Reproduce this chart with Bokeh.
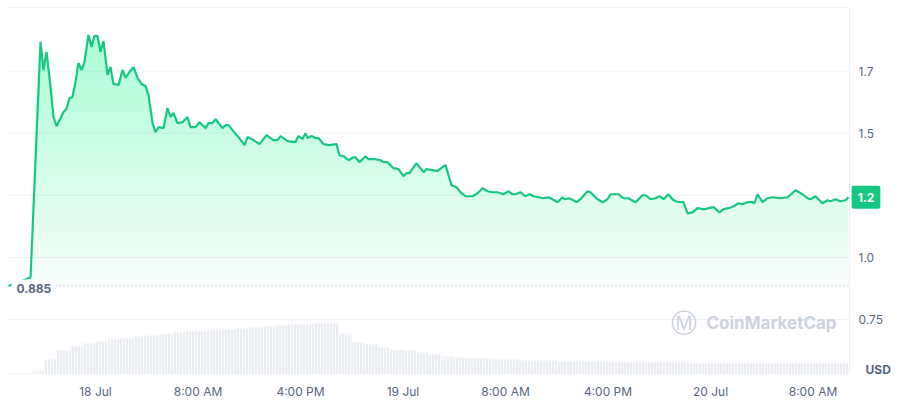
import numpy as np
import pandas as pd
from bokeh.plotting import figure
from bokeh.models import Range1d, Label
from bokeh.core.properties import value
from bokeh.embed import file_html
from bokeh.resources import INLINE

# ---------------- data ----------------
start_time = "2023-07-18 00:00"
# hours relative to 18 Jul 00:00
hours = [-6.79, -5.07, -4.29, -4.06, -3.82, -3.51, -3.28, -3.04, -2.73, -2.50,
         -2.26, -2.03, -1.80, -1.56, -1.33, -1.09, -0.86, -0.55, -0.31, -0.08,
         0.16, 0.39, 0.62, 0.94, 1.17, 1.40, 1.80, 2.11, 2.34, 2.65,
         2.97, 3.28, 3.59, 3.90, 4.14, 4.45, 4.68, 4.92, 5.31, 5.62,
         5.85, 6.09, 6.40, 6.79, 7.18, 7.41, 7.80, 8.12, 8.59, 8.82,
         9.13, 9.37, 9.91, 10.15, 10.38, 10.69, 11.16, 11.63, 11.86, 12.33,
         12.80, 13.35, 13.89, 14.21, 14.44, 14.99, 15.61, 15.84, 16.16, 16.39,
         16.55, 16.86, 17.17, 17.41, 17.80, 18.19, 18.81, 19.04, 19.36, 19.75,
         20.14, 20.29, 20.61, 21.07, 21.31, 21.85, 22.24, 22.48, 22.79, 23.26,
         23.65, 24.04, 24.27, 24.51, 25.05, 25.60, 25.83, 26.30, 26.69, 27.08,
         27.32, 27.79, 28.18, 28.49, 28.88, 29.42, 29.82, 30.21, 30.60, 30.99,
         31.38, 31.84, 32.23, 32.55, 32.78, 33.17, 33.56, 33.87, 34.19, 34.58,
         34.97, 35.36, 35.67, 36.06, 36.45, 36.61, 36.92, 37.31, 37.54, 37.85,
         38.40, 38.63, 39.18, 39.57, 39.96, 40.20, 40.43, 40.82, 41.21, 41.60,
         42.15, 42.69, 42.93, 43.32, 43.71, 44.02, 44.33, 44.72, 45.03, 45.27,
         45.66, 45.89, 46.21, 46.60, 46.99, 47.38, 47.61, 47.84, 48.23, 48.70,
         49.02, 49.41, 49.80, 50.19, 50.50, 50.89, 51.28, 51.43, 51.67, 52.06,
         52.45, 52.84, 53.46, 54.01, 54.64, 55.18, 55.57, 55.81, 56.20, 56.74,
         57.13, 57.37, 57.76, 58.15, 58.54, 58.77]
prices = [0.885, 0.919, 1.867, 1.754, 1.827, 1.685, 1.565, 1.528, 1.560, 1.585,
          1.597, 1.641, 1.645, 1.706, 1.782, 1.754, 1.786, 1.895, 1.847, 1.891,
          1.891, 1.827, 1.871, 1.734, 1.766, 1.698, 1.694, 1.754, 1.722, 1.746,
          1.766, 1.722, 1.698, 1.690, 1.653, 1.540, 1.504, 1.524, 1.520, 1.601,
          1.565, 1.581, 1.540, 1.544, 1.565, 1.524, 1.524, 1.544, 1.520, 1.540,
          1.540, 1.556, 1.520, 1.532, 1.532, 1.512, 1.484, 1.452, 1.484, 1.472,
          1.456, 1.492, 1.472, 1.472, 1.488, 1.468, 1.464, 1.488, 1.476, 1.500,
          1.480, 1.488, 1.480, 1.480, 1.456, 1.452, 1.456, 1.411, 1.407, 1.391,
          1.403, 1.403, 1.383, 1.407, 1.395, 1.395, 1.391, 1.383, 1.383, 1.359,
          1.355, 1.327, 1.339, 1.339, 1.379, 1.343, 1.355, 1.351, 1.347, 1.363,
          1.371, 1.290, 1.282, 1.262, 1.246, 1.246, 1.258, 1.278, 1.266, 1.262,
          1.262, 1.254, 1.266, 1.254, 1.254, 1.262, 1.246, 1.254, 1.246, 1.242,
          1.238, 1.242, 1.234, 1.222, 1.242, 1.234, 1.238, 1.230, 1.222, 1.234,
          1.266, 1.262, 1.234, 1.222, 1.234, 1.254, 1.254, 1.254, 1.238, 1.238,
          1.222, 1.250, 1.250, 1.234, 1.238, 1.246, 1.234, 1.254, 1.234, 1.226,
          1.222, 1.222, 1.177, 1.181, 1.198, 1.194, 1.194, 1.198, 1.202, 1.181,
          1.194, 1.198, 1.206, 1.218, 1.214, 1.222, 1.222, 1.218, 1.254, 1.222,
          1.238, 1.242, 1.238, 1.242, 1.270, 1.254, 1.238, 1.234, 1.246, 1.218,
          1.230, 1.226, 1.234, 1.226, 1.230, 1.242]

# hourly volume bars (centre hour, 24h volume in M USD)
vol_hours = [-4.5, -3.5, -2.5, -1.5, -0.5, 0.5, 1.5, 2.5, 3.5, 4.5,
             5.5, 6.5, 7.5, 8.5, 9.5, 10.5, 11.5, 12.5, 13.5, 14.5,
             15.5, 16.5, 17.5, 18.5, 19.5, 20.5, 21.5, 22.5, 23.5, 24.5,
             25.5, 26.5, 27.5, 28.5, 29.5, 30.5, 31.5, 32.5, 33.5, 34.5,
             35.5, 36.5, 37.5, 38.5, 39.5, 40.5, 41.5, 42.5, 43.5, 44.5,
             45.5, 46.5, 47.5, 48.5, 49.5, 50.5, 51.5, 52.5, 53.5, 54.5,
             55.5, 56.5, 57.5, 58.5]
volumes = [0.3, 1.4, 2.3, 2.7, 3.0, 3.2, 3.4, 3.5, 3.7, 3.8,
           4.0, 4.1, 4.2, 4.2, 4.3, 4.4, 4.5, 4.6, 4.7, 4.8,
           4.9, 4.9, 5.0, 5.0, 4.0, 3.1, 2.9, 2.6, 2.4, 2.3,
           2.1, 1.9, 1.7, 1.6, 1.5, 1.5, 1.4, 1.4, 1.3, 1.3,
           1.3, 1.2, 1.2, 1.2, 1.2, 1.1, 1.1, 1.1, 1.1, 1.1,
           1.1, 1.0, 1.0, 1.0, 1.0, 1.0, 1.0, 1.0, 1.0, 1.0,
           1.0, 1.0, 1.0, 1.0]

tick_hours = [0, 8, 16, 24, 32, 40, 48, 56]
y_ticks = [0.75, 1.0, 1.25, 1.5, 1.75]
y_tick_labels = ["0.75", "1.0", "", "1.5", "1.7"]
open_price = prices[0]

# ---------------- layout / style ----------------
GREEN = "#16c784"
TEXT = "#58667e"
GRID = "#eff2f5"
FONT = "Inter"

W, H = 900, 400
PX_PER_H = 12.8125          # horizontal scale
PX_PER_USD = 248.5          # vertical scale
X0_PAGE = 95                # page x of 18 Jul 00:00
Y075_PAGE = 319             # page y of price 0.75
VOL_BASE_PAGE = 373         # page y of volume zero
VOL_PER_PX = 0.1

t0 = pd.Timestamp(start_time)


def hx(h):                  # hours -> datetime
    return t0 + pd.Timedelta(hours=float(h))


def ms(h):
    return hx(h).value / 1e6


def page_h(px):             # page x -> hours
    return (px - X0_PAGE) / PX_PER_H


def page_p(py):             # page y -> price
    return 0.75 + (Y075_PAGE - py) / PX_PER_USD


x_range = Range1d(hx(page_h(0)), hx(page_h(W)))
y_range = Range1d(page_p(H), page_p(0))

plot_left, plot_right = page_h(7), page_h(849)
plot_top, plot_bottom = page_p(7), page_p(VOL_BASE_PAGE)

t = (t0 + pd.to_timedelta(np.array(hours), unit="h")).to_numpy()
pr = np.array(prices)
vh = np.array(vol_hours)

p = figure(width=W, height=H, x_range=x_range, y_range=y_range,
           x_axis_type="datetime", x_axis_location=None, y_axis_location=None,
           output_backend="svg", toolbar_location=None, min_border=0)
p.grid.visible = False
p.outline_line_color = None
p.background_fill_color = "white"
p.border_fill_color = "white"

vol_start = -(H - VOL_BASE_PAGE) * VOL_PER_PX
p.extra_y_ranges = {"vol": Range1d(vol_start, vol_start + H * VOL_PER_PX)}

# frame lines + grid
p.segment(x0=[hx(plot_left)] * len(y_ticks), x1=[hx(plot_right)] * len(y_ticks),
          y0=y_ticks, y1=y_ticks, line_color=GRID, line_width=1)
p.segment(x0=[hx(plot_left), hx(plot_right), hx(plot_left)],
          x1=[hx(plot_right), hx(plot_right), hx(plot_right)],
          y0=[plot_top, plot_top, plot_bottom], y1=[plot_top, plot_bottom, plot_bottom],
          line_color=GRID, line_width=1)

# volume bars (contiguous, finely striped)
left = t0 + pd.to_timedelta(vh - 0.5, unit="h")
right = t0 + pd.to_timedelta(np.minimum(vh + 0.5, plot_right), unit="h")
p.quad(left=left.to_numpy(), right=right.to_numpy(), bottom=0, top=volumes,
       y_range_name="vol", fill_color="#eaedf2", line_color=None,
       hatch_pattern="vertical_line", hatch_color="white", hatch_scale=3,
       hatch_weight=1, hatch_alpha=0.8)

# gradient-like fill under the line: stacked translucent layers
levels = np.linspace(open_price, 1.9, 40)
for i, lv in enumerate(levels):
    a = 0.035 if i == 0 else 0.007
    p.varea(x=t, y1=np.full(len(pr), lv), y2=np.maximum(pr, lv),
            fill_color=GREEN, fill_alpha=a)

p.line(t, pr, line_color=GREEN, line_width=2.2)

# open-price dotted line
p.segment(x0=[hx(plot_left)], x1=[hx(plot_right)], y0=[open_price], y1=[open_price],
          line_color="#a6b0c3", line_dash="1 3", line_width=1)

# x tick labels
tick_txt = [hx(h).strftime("%-d %b") if hx(h).hour == 0
            else hx(h).strftime("%-I:%M %p") for h in tick_hours]
p.text(x=[hx(h) for h in tick_hours], y=[page_p(391)] * len(tick_hours), text=tick_txt,
       text_align="center", text_baseline="middle", text_color=TEXT,
       text_font=value(FONT), text_font_size="12px")

# y tick labels
p.text(x=[hx(page_h(858))] * len(y_ticks), y=y_ticks, text=y_tick_labels,
       text_align="left", text_baseline="middle", text_color=TEXT,
       text_font=value(FONT), text_font_size="12px")

# USD unit
p.text(x=[hx(page_h(865))], y=[page_p(369)], text=["USD"],
       text_align="left", text_baseline="middle", text_color=TEXT,
       text_font=value(FONT), text_font_size="12px", text_font_style="bold")

# open price label
p.add_layout(Label(x=ms(page_h(11)), y=open_price, y_offset=-3,
                   text=f"{open_price}", text_baseline="middle", text_align="left",
                   text_color=TEXT, text_font=FONT, text_font_size="12px",
                   text_font_style="bold", background_fill_color="white",
                   padding=5))

# last price badge
p.add_layout(Label(x=ms(page_h(865.5)), y=prices[-1],
                   text=f"{prices[-1]:.1f}", text_baseline="middle", text_align="center",
                   text_color="white", text_font=FONT, text_font_size="12px",
                   text_font_style="bold", background_fill_color=GREEN,
                   padding=(6, 7), border_radius=2))

# watermark
p.add_layout(Label(x=ms(page_h(706)), y=page_p(322), text="CoinMarketCap",
                   text_baseline="middle", text_align="left", text_color="#cdd3de",
                   text_font=FONT, text_font_size="17px", text_font_style="bold"))
p.add_layout(Label(x=ms(page_h(683)), y=page_p(322), text="\u24c2",
                   text_baseline="middle", text_align="center", text_color="#cdd3de",
                   text_font="DejaVu Sans", text_font_size="26px"))

open("out.html", "w").write(file_html(p, INLINE))
